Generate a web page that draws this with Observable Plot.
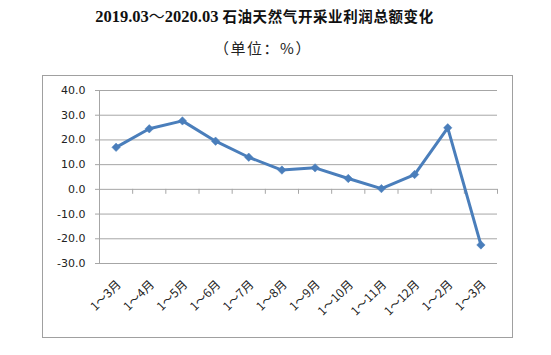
<!DOCTYPE html>
<html>
<head>
<meta charset="utf-8">
<script src="https://cdn.jsdelivr.net/npm/d3@7"></script>
<script src="https://cdn.jsdelivr.net/npm/@observablehq/plot@0.6"></script>
<style>
  html, body { margin: 0; padding: 0; background: #fff; }
  #wrap { position: relative; width: 551px; height: 355px; overflow: hidden; }
  #frame { position: absolute; left: 42px; top: 75px; width: 469px; height: 261px; border: 1px solid #a0a0a0; box-sizing: content-box; }
  #title { position: absolute; left: 0; width: 529px; top: 4px; text-align: center; font-weight: bold; color: #111; white-space: nowrap; line-height: 22px; }
  #title .num { font-family: "Liberation Serif", serif; font-size: 16.5px; }
  #title .tl { font-family: "Noto Sans CJK SC", sans-serif; font-size: 16px; font-weight: normal; }
  #title .cn { font-family: "Noto Sans CJK SC", sans-serif; font-size: 14.5px; letter-spacing: 0.6px; }
  #subtitle { position: absolute; left: 0; width: 526px; top: 38px; text-align: center; font-family: "Noto Sans CJK SC", sans-serif; font-size: 15px; letter-spacing: 1.5px; color: #222; line-height: 20px; }
  #chart { position: absolute; left: 0; top: 0; }
</style>
</head>
<body>
<div id="wrap">
  <div id="frame"></div>
  <div id="chart"></div>
  <div id="title"><span class="num">2019.03</span><span class="tl">～</span><span class="num">2020.03</span> <span class="cn">石油天然气开采业利润总额变化</span></div>
  <div id="subtitle">（单位：%）</div>
</div>
<script>
const categories = ["1～3月","1～4月","1～5月","1～6月","1～7月","1～8月","1～9月","1～10月","1～11月","1～12月","1～2月","1～3月"];
const values = [17.0, 24.5, 27.7, 19.5, 13.0, 7.8, 8.7, 4.4, 0.3, 6.0, 24.9, -22.5];
const yTicks = [-30, -20, -10, 0, 10, 20, 30, 40];

const data = categories.map((c, i) => ({i, cat: c, v: values[i]}));
const boundaries = d3.range(-0.5, categories.length, 1);

const blue = "#4a7ebb";
const gridColor = "#a6a6a6";

const chart = Plot.plot({
  width: 551,
  height: 355,
  marginTop: 90,
  marginBottom: 92,
  marginLeft: 99,
  marginRight: 54,
  style: {background: "transparent", fontFamily: "DejaVu Sans, sans-serif", overflow: "visible"},
  x: {type: "linear", domain: [-0.5, categories.length - 0.5], axis: null},
  y: {domain: [yTicks[0], yTicks[yTicks.length - 1]], axis: null},
  marks: [
    Plot.ruleY(yTicks, {stroke: gridColor, strokeWidth: 1}),
    Plot.ruleX([-0.5], {stroke: gridColor, strokeWidth: 1}),
    Plot.ruleX(boundaries.slice(1), {x: d => d, y1: 0, y2: -2, stroke: gridColor, strokeWidth: 1}),
    Plot.axisY({ticks: yTicks, label: null, tickFormat: d => d.toFixed(1), tickSize: 4, tickPadding: 10, stroke: gridColor, fill: "#222", fontSize: 11, fontFamily: "DejaVu Sans, sans-serif"}),
    Plot.line(data, {x: "i", y: "v", stroke: blue, strokeWidth: 3, strokeLinejoin: "round"}),
    Plot.dot(data, {x: "i", y: "v", symbol: "diamond2", r: 3.8, fill: blue, stroke: blue, strokeWidth: 0.5}),
    Plot.text(data, {x: "i", frameAnchor: "bottom", text: "cat", rotate: -45, textAnchor: "end", lineAnchor: "middle", dx: 3, dy: 19, fontSize: 12, fill: "#222", fontFamily: "'Noto Sans CJK SC', sans-serif"})
  ]
});
document.getElementById("chart").appendChild(chart);
</script>
</body>
</html>
